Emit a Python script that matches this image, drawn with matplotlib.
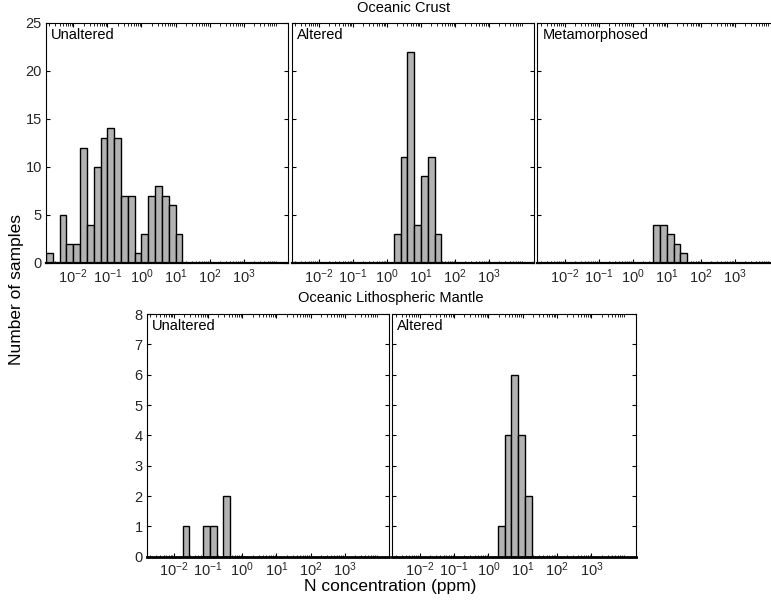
import numpy as np
import matplotlib
matplotlib.use("Agg")
import matplotlib.pyplot as plt
from matplotlib.ticker import LogLocator, FixedLocator, MultipleLocator, NullFormatter

plt.rcParams['font.family'] = ['Liberation Sans', 'DejaVu Sans']
plt.rcParams['mathtext.fontset'] = 'custom'
plt.rcParams['mathtext.rm'] = 'Liberation Sans'
plt.rcParams['mathtext.it'] = 'Liberation Sans'
plt.rcParams['mathtext.default'] = 'regular'

# ---- data: log10 of the left edge of the first bin, bin width (log10), counts ----
bin_width = 0.2

crust_unaltered_start = -2.8
crust_unaltered_counts = [1, 0, 5, 2, 2, 12, 4, 10, 13, 14, 13, 7, 7, 1, 3, 7, 8, 7, 6, 3]

crust_altered_start = 0.2
crust_altered_counts = [3, 11, 22, 4, 9, 11, 3]

crust_meta_start = 0.6
crust_meta_counts = [4, 4, 3, 2, 1]

mantle_unaltered_start = -1.75
mantle_unaltered_counts = [1, 0, 0, 1, 1, 0, 2]

mantle_altered_start = 0.27
mantle_altered_counts = [1, 4, 6, 4, 2]

panel_labels_top = ["Unaltered", "Altered", "Metamorphosed"]
panel_labels_bottom = ["Unaltered", "Altered"]
title_top = "Oceanic Crust"
title_bottom = "Oceanic Lithospheric Mantle"
xlabel = "N concentration (ppm)"
ylabel = "Number of samples"
xtick_vals = [1e-2, 1e-1, 1e0, 1e1, 1e2, 1e3]
xlim = (10 ** -2.8, 10 ** 4.3)

W, H = 771, 602
fig = plt.figure(figsize=(W / 100, H / 100), dpi=100)


def add_ax(x0, x1, ytop, ybot):
    return fig.add_axes([x0 / W, (H - ybot) / H, (x1 - x0) / W, (ybot - ytop) / H])


def draw_hist(ax, start, counts):
    counts = np.asarray(counts, dtype=float)
    edges = 10 ** (start + bin_width * np.arange(len(counts) + 1))
    left = edges[:-1]
    widths = np.diff(edges)
    mask = counts > 0
    ax.bar(left[mask], counts[mask], width=widths[mask], align='edge',
           color='#b2b2b2', edgecolor='black', linewidth=1.0, zorder=2)


def style(ax, ymax, ystep, show_ylabels, label, bottom_lw):
    ax.set_xscale('log')
    ax.set_xlim(*xlim)
    ax.set_ylim(0, ymax)
    ax.xaxis.set_major_locator(FixedLocator(xtick_vals))
    ax.xaxis.set_minor_locator(LogLocator(base=10, subs=np.arange(2, 10), numticks=30))
    ax.xaxis.set_minor_formatter(NullFormatter())
    ax.yaxis.set_major_locator(MultipleLocator(ystep))
    ax.tick_params(which='both', direction='in', top=True, right=True,
                   labelsize=10.5, colors='black', pad=3)
    ax.tick_params(which='major', length=3, width=0.8)
    ax.tick_params(which='minor', length=1.8, width=0.6)
    ax.tick_params(axis='y', labelcolor='#262626')
    ax.tick_params(axis='x', labelcolor='#262626')
    if not show_ylabels:
        ax.tick_params(axis='y', labelleft=False)
    for s in ax.spines.values():
        s.set_linewidth(0.8)
    ax.spines['bottom'].set_linewidth(bottom_lw)
    ax.annotate(label, xy=(0, 1), xycoords='axes fraction', xytext=(5, -5),
                textcoords='offset pixels', fontsize=10.5, va='top', ha='left')


# top row
top_y = (22.7, 263)
top_x = [(46, 288), (291.5, 533.5), (537.3, 779.3)]
top_data = [(crust_unaltered_start, crust_unaltered_counts),
            (crust_altered_start, crust_altered_counts),
            (crust_meta_start, crust_meta_counts)]
for i, ((x0, x1), (st, cts)) in enumerate(zip(top_x, top_data)):
    ax = add_ax(x0, x1, *top_y)
    draw_hist(ax, st, cts)
    style(ax, 25, 5, i == 0, panel_labels_top[i], 1.6)

# bottom row
bot_y = (314, 556.7)
bot_x = [(146.7, 389), (392.3, 636)]
bot_data = [(mantle_unaltered_start, mantle_unaltered_counts),
            (mantle_altered_start, mantle_altered_counts)]
for i, ((x0, x1), (st, cts)) in enumerate(zip(bot_x, bot_data)):
    ax = add_ax(x0, x1, *bot_y)
    draw_hist(ax, st, cts)
    style(ax, 8, 1, i == 0, panel_labels_bottom[i], 2.0)

fig.text(404 / W, 1 - 8 / H, title_top, ha='center', va='center', fontsize=10.5)
fig.text(391 / W, 1 - 298 / H, title_bottom, ha='center', va='center', fontsize=10.5)
fig.text(390 / W, 1 - 586 / H, xlabel, ha='center', va='center', fontsize=12.5)
fig.text(17 / W, 1 - 290 / H, ylabel, ha='center', va='center', rotation=90, fontsize=12.5)

fig.savefig("out.png", dpi=100)
